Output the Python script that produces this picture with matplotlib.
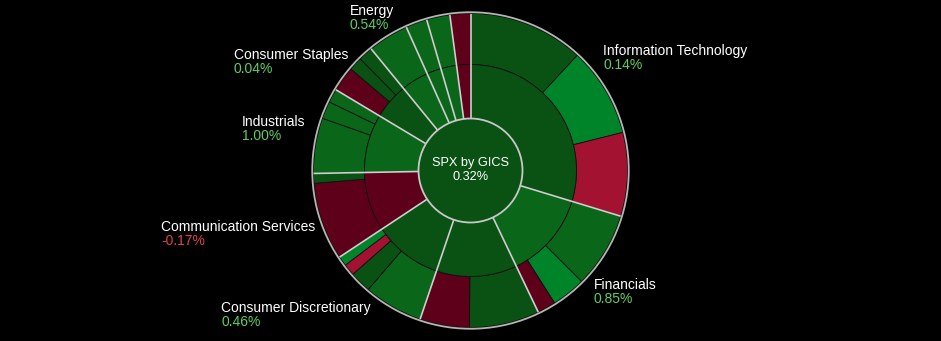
import numpy as np
import matplotlib.pyplot as plt
from matplotlib.patches import Circle

# GICS sectors, clockwise from 12 o'clock
sectors = ["Information Technology", "Financials", "Health Care",
           "Consumer Discretionary", "Communication Services", "Industrials",
           "Consumer Staples", "Energy", "Utilities", "Real Estate", "Materials"]
sector_chg = [0.14, 0.85, 0.25, 0.46, -0.17, 1.00, 0.04, 0.54, 0.60, 0.70, -0.40]

# index weights (%) of the industry groups inside each sector
group_wt = [
    [11.9, 9.2, 8.6],
    [7.8, 3.5, 1.9],
    [7.2, 5.1],
    [6.1, 2.2, 1.2, 1.0],
    [8.0, 1.0],
    [5.7, 1.8, 1.4],
    [2.6, 1.4, 1.5],
    [4.2],
    [2.2],
    [2.4],
    [2.1],
]
group_chg = [
    [0.30, 1.30, -1.30],
    [0.70, 1.30, -0.60],
    [0.30, -0.50],
    [0.80, 0.20, -1.10, 1.40],
    [-0.40, 0.20],
    [0.90, 0.90, 0.90],
    [-0.40, 0.20, 0.30],
    [0.60],
    [0.50],
    [0.60],
    [-0.30],
]
index_name = "SPX by GICS"
index_chg = 0.32

labeled = ["Information Technology", "Financials", "Consumer Discretionary",
           "Communication Services", "Industrials", "Consumer Staples", "Energy"]


def chg_color(v):
    if v < -1.0:
        return "#a31230"
    if v < 0:
        return "#5e0019"
    if v < 0.5:
        return "#0a5214"
    if v < 1.2:
        return "#0a6619"
    return "#00842a"


W, H = 941, 341
fig = plt.figure(figsize=(W / 100, H / 100), dpi=100, facecolor="black")

R_OUT, R_MID, R_IN = 157.0, 106.0, 52.0
cx, cy = 470.5, 170.5
ax = fig.add_axes([(cx - H / 2) / W, 0, H / W, 1])
ax.set_facecolor("black")

outer_sizes = [w for grp in group_wt for w in grp]
outer_cols = [chg_color(c) for grp in group_chg for c in grp]
sector_sizes = [sum(grp) for grp in group_wt]
sector_cols = [chg_color(c) for c in sector_chg]

r_mid = R_MID / R_OUT
r_in = R_IN / R_OUT

ax.pie(outer_sizes, radius=1.0, colors=outer_cols, startangle=90,
       counterclock=False,
       wedgeprops=dict(width=1.0 - r_mid, edgecolor="#111111", linewidth=0.6))
ax.pie(sector_sizes, radius=r_mid, colors=sector_cols, startangle=90,
       counterclock=False,
       wedgeprops=dict(width=r_mid - r_in, edgecolor="#111111", linewidth=0.6))

# pie() resets the limits, so set them afterwards
lim = (H / 2) / R_OUT
ax.set_xlim(-lim, lim)
ax.set_ylim(-lim, lim)
ax.axis("off")

# light separators between sectors
total = sum(sector_sizes)
cum = np.concatenate([[0], np.cumsum(sector_sizes)[:-1]])
for c in cum:
    th = np.deg2rad(90 - c / total * 360)
    ax.plot([r_in * np.cos(th), np.cos(th)], [r_in * np.sin(th), np.sin(th)],
            color="#cfcfcf", lw=1.2, solid_capstyle="butt", zorder=5)

ax.add_patch(Circle((0, 0), 1.008, fill=False, ec="#b5b5b5", lw=1.3, zorder=6))
ax.add_patch(Circle((0, 0), r_in, fc=chg_color(index_chg), ec="#c8c8c8",
                    lw=1.3, zorder=7))

font = ["Liberation Sans", "DejaVu Sans"]
ax.text(0, 0.029, index_name, color="white", ha="center", va="baseline",
        fontsize=9.2, family=font, zorder=8)
ax.text(0, -0.06, f"{index_chg:.2f}%", color="white", ha="center",
        va="baseline", fontsize=9.2, family=font, zorder=8)

# sector labels placed around the ring (pixel anchors: left x, name baseline y)
label_pos = {
    "Information Technology": (603, 55),
    "Financials": (594, 289),
    "Consumer Discretionary": (221, 312),
    "Communication Services": (161, 231),
    "Industrials": (242, 126),
    "Consumer Staples": (234, 59),
    "Energy": (350, 15),
}
for name in labeled:
    x, y = label_pos[name]
    v = sector_chg[sectors.index(name)]
    fig.text(x / W, 1 - y / H, name, color="white", fontsize=10,
             family=font, va="baseline", ha="left")
    fig.text(x / W, 1 - (y + 14) / H, f"{v:.2f}%",
             color="#5fcf63" if v >= 0 else "#e0434e", fontsize=10,
             family=font, va="baseline", ha="left")

fig.savefig("out.png", dpi=100, facecolor="black")
